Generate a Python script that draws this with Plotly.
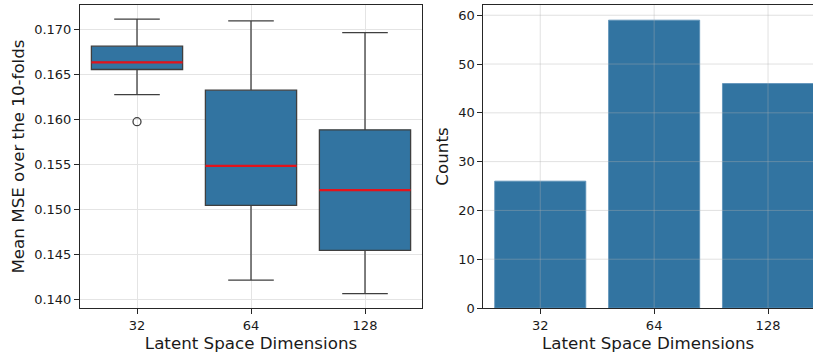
import plotly.graph_objects as go

# ---- data ----
dims = ["32", "64", "128"]
upper_whisker = [0.1711, 0.1709, 0.1696]
q3_vals = [0.1681, 0.1632, 0.1588]
medians = [0.1663, 0.1548, 0.1521]
q1_vals = [0.1655, 0.1504, 0.1454]
lower_whisker = [0.1627, 0.1421, 0.1406]
outlier_dim_idx = [0]
outlier_vals = [0.1597]
counts = [26, 59, 46]

BLUE = "#3274a1"
EDGE = "#3f3f3f"
FONT = "DejaVu Sans"
TXT = "#1a1a1a"
pos = list(range(len(dims)))

fig = go.Figure()

for i in pos:
    fig.add_trace(go.Box(
        x=[i], q1=[q1_vals[i]], median=[medians[i]], q3=[q3_vals[i]],
        lowerfence=[lower_whisker[i]], upperfence=[upper_whisker[i]],
        width=0.8, whiskerwidth=0.5, boxpoints=False,
        fillcolor=BLUE, line=dict(color=EDGE, width=1.3),
        xaxis="x", yaxis="y", showlegend=False, hoverinfo="skip"))

mx, my = [], []
for i in pos:
    mx += [i - 0.4, i + 0.4, None]
    my += [medians[i], medians[i], None]
fig.add_trace(go.Scatter(x=mx, y=my, mode="lines", line=dict(color="#e3131b", width=2.2),
                         xaxis="x", yaxis="y", showlegend=False, hoverinfo="skip"))
fig.add_trace(go.Scatter(x=outlier_dim_idx, y=outlier_vals, mode="markers",
                         marker=dict(symbol="circle-open", size=8, color=EDGE, line=dict(width=1.3)),
                         xaxis="x", yaxis="y", showlegend=False, hoverinfo="skip"))

fig.add_trace(go.Bar(x=pos, y=counts, width=0.8,
                     marker=dict(color=BLUE, line=dict(color="#5b8fb8", width=0.8)),
                     xaxis="x2", yaxis="y2", showlegend=False, hoverinfo="skip"))

# grid over bars (right chart)
GRID_OVER = "rgba(176,176,176,0.38)"
y2_top = 62.1
for i in pos:
    fig.add_shape(type="line", xref="x2", yref="y2", x0=i, x1=i, y0=0, y1=y2_top,
                  line=dict(color=GRID_OVER, width=1), layer="above")
for v in range(10, 70, 10):
    fig.add_shape(type="line", xref="x2", yref="y2", x0=-0.5, x1=2.395, y0=v, y1=v,
                  line=dict(color=GRID_OVER, width=1), layer="above")

axis_common = dict(
    showline=True, linecolor="#262626", linewidth=1, ticks="outside", ticklen=5,
    tickcolor="#262626", tickwidth=1, zeroline=False,
    tickfont=dict(family=FONT, size=13, color=TXT), automargin=False,
)
title_font = dict(family=FONT, size=16.7, color=TXT)

fig.update_layout(
    width=813, height=356,
    margin=dict(l=0, r=0, t=5, b=48),
    paper_bgcolor="white", plot_bgcolor="white",
    xaxis=dict(domain=[80 / 813, 422 / 813], range=[-0.5, 2.5], tickvals=pos, ticktext=dims,
               mirror=True, showgrid=True, gridcolor="#e4e4e4", gridwidth=1,
               title=dict(text="Latent Space Dimensions", font=title_font, standoff=4),
               anchor="y", **axis_common),
    yaxis=dict(range=[0.139, 0.17267], tickvals=[0.140, 0.145, 0.150, 0.155, 0.160, 0.165, 0.170],
               tickformat=".3f", mirror=True, showgrid=True, gridcolor="#e4e4e4", gridwidth=1,
               title=dict(text="Mean MSE over the 10-folds", font=title_font, standoff=5),
               anchor="x", **axis_common),
    xaxis2=dict(domain=[483.3 / 813, 1.0], range=[-0.5, 2.395], tickvals=pos, ticktext=dims,
                mirror=True, showgrid=False,
                title=dict(text="Latent Space Dimensions", font=title_font, standoff=4),
                anchor="y2", **axis_common),
    yaxis2=dict(range=[0, y2_top], tickvals=[0, 10, 20, 30, 40, 50, 60], mirror=False,
                showgrid=False,
                title=dict(text="Counts", font=title_font, standoff=5),
                anchor="x2", **axis_common),
)

fig.write_html("out.html")
